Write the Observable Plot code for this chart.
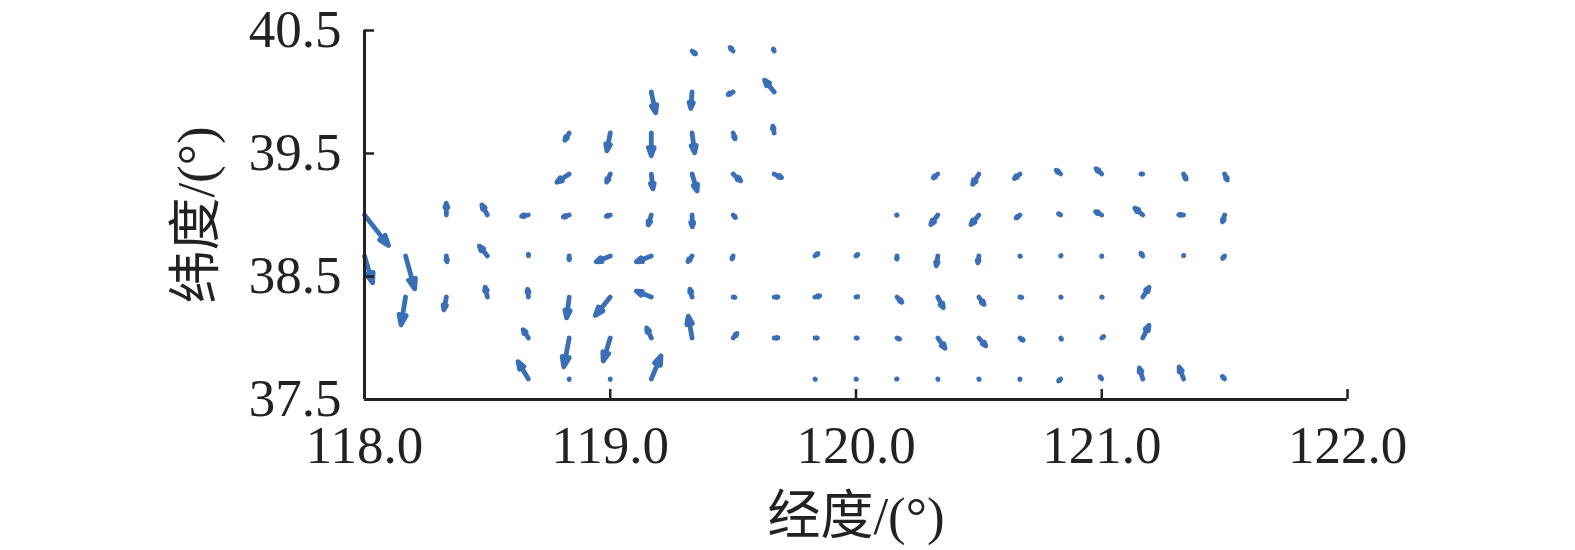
<!DOCTYPE html>
<html>
<head>
<meta charset="utf-8">
<script src="https://cdn.jsdelivr.net/npm/d3@7"></script>
<script src="https://cdn.jsdelivr.net/npm/@observablehq/plot@0.6"></script>
<style>
  html, body { margin: 0; padding: 0; background: #fff; }
</style>
</head>
<body>
<div id="chart"></div>
<script>
// Axis ticks and labels
const xTicks = [118.0, 119.0, 120.0, 121.0, 122.0];
const yTicks = [37.5, 38.5, 39.5, 40.5];
const xDomain = [118.0, 122.0];
const yDomain = [37.5, 40.5];
const xLabel = ["经度/(°)"];
const yLabel = ["纬度/(°)"];

// Grid points (longitude, latitude) of each current vector, row by row (north to south)
const lon = [
  // 40.333
  119.333, 119.5, 119.667,
  // 40.0
  119.167, 119.333, 119.5, 119.667,
  // 39.667
  118.833, 119.0, 119.167, 119.333, 119.5, 119.667,
  // 39.333
  118.833, 119.0, 119.167, 119.333, 119.5, 119.667,
  120.333, 120.5, 120.667, 120.833, 121.0, 121.167, 121.333, 121.5,
  // 39.0
  118.0, 118.333, 118.5, 118.667, 118.833, 119.0, 119.167, 119.333, 119.5,
  120.167, 120.333, 120.5, 120.667, 120.833, 121.0, 121.167, 121.333, 121.5,
  // 38.667
  118.0, 118.167, 118.333, 118.5, 118.667, 118.833, 119.0, 119.167, 119.333, 119.5,
  119.833, 120.0, 120.167, 120.333, 120.5, 120.667, 120.833, 121.0, 121.167, 121.333, 121.5,
  // 38.333
  118.167, 118.333, 118.5, 118.667, 118.833, 119.0, 119.167, 119.333, 119.5, 119.667,
  119.833, 120.0, 120.167, 120.333, 120.5, 120.667, 120.833, 121.0, 121.167,
  // 38.0
  118.667, 118.833, 119.0, 119.167, 119.333, 119.5, 119.667,
  119.833, 120.0, 120.167, 120.333, 120.5, 120.667, 120.833, 121.0, 121.167,
  // 37.667
  118.667, 118.833, 119.0, 119.167,
  119.833, 120.0, 120.167, 120.333, 120.5, 120.667, 120.833, 121.0, 121.167, 121.333, 121.5
];
const lat = [
  40.333, 40.333, 40.333,
  40.0, 40.0, 40.0, 40.0,
  39.667, 39.667, 39.667, 39.667, 39.667, 39.667,
  39.333, 39.333, 39.333, 39.333, 39.333, 39.333,
  39.333, 39.333, 39.333, 39.333, 39.333, 39.333, 39.333, 39.333,
  39.0, 39.0, 39.0, 39.0, 39.0, 39.0, 39.0, 39.0, 39.0,
  39.0, 39.0, 39.0, 39.0, 39.0, 39.0, 39.0, 39.0, 39.0,
  38.667, 38.667, 38.667, 38.667, 38.667, 38.667, 38.667, 38.667, 38.667, 38.667,
  38.667, 38.667, 38.667, 38.667, 38.667, 38.667, 38.667, 38.667, 38.667, 38.667, 38.667,
  38.333, 38.333, 38.333, 38.333, 38.333, 38.333, 38.333, 38.333, 38.333, 38.333,
  38.333, 38.333, 38.333, 38.333, 38.333, 38.333, 38.333, 38.333, 38.333,
  38.0, 38.0, 38.0, 38.0, 38.0, 38.0, 38.0,
  38.0, 38.0, 38.0, 38.0, 38.0, 38.0, 38.0, 38.0, 38.0,
  37.667, 37.667, 37.667, 37.667,
  37.667, 37.667, 37.667, 37.667, 37.667, 37.667, 37.667, 37.667, 37.667, 37.667, 37.667
];
// Eastward (u) and northward (v) components
const u = [
  1.5, -1.25, -0.5,
  1.25, -0.4, -2.0, -2.9,
  -1.5, -1.0, 0.0, 0.75, 0.75, -0.5,
  -3.75, -1.25, 0.5, 1.5, 2.5, 2.6,
  -1.75, -2.0, -2.0, -1.75, -2.0, -1.25, 1.0, 1.0,
  6.5, 0.0, -1.75, -2.5, -2.25, -1.75, -1.0, 0.1, 1.1,
  -0.5, -2.25, -2.5, -1.6, -1.25, -2.25, -2.6, -2.0, -0.75,
  2.25, 2.5, 0.25, -2.5, 0.0, 0.0, -4.25, -4.5, -1.5, -0.6,
  1.4, 1.1, -0.1, -0.5, -0.4, 0.25, 0.25, 0.0, -0.9, 0.0, -1.0,
  -1.25, -0.75, -0.75, -0.25, -0.75, -4.25, -4.5, -0.75, 1.25, 1.75,
  2.0, 1.25, 1.75, 1.75, 1.75, 1.25, 0.6, 0.25, 2.0,
  -1.75, -1.5, -2.0, -1.5, -1.1, 1.5, 1.75,
  1.4, 1.1, 1.4, 2.25, 2.25, 1.5, 0.6, 1.1, 1.9,
  -3.0, 0.0, 0.0, 2.75,
  0.25, 0.25, -0.25, 0.25, 0.25, 0.0, -1.1, -0.9, -1.1, -1.4, -1.1
];
const v = [
  -1.25, 1.5, 1.25,
  -6.0, -4.9, -1.0, 3.6,
  -2.5, -5.25, -6.5, -5.75, -2.25, 2.5,
  -2.5, -2.75, -4.5, -5.0, -2.25, -1.25,
  -1.5, -3.25, -1.6, 1.5, 1.9, 0.0, -2.0, -2.25,
  -8.25, 3.75, 3.25, -0.4, -0.75, -0.6, -3.25, -3.75, -1.25,
  -0.25, -3.0, -3.0, -1.25, 0.75, 1.25, 2.25, 0.1, -2.5,
  -7.5, -9.0, -2.25, 3.1, 1.25, -1.75, -1.75, -1.75, -2.0, -1.5,
  1.1, 0.9, -1.6, -3.25, -2.5, -0.25, 0.25, -0.25, 1.4, 0.4, -1.25,
  -7.75, -4.0, 3.25, 2.75, -6.0, -5.25, 1.75, 2.75, -0.25, 0.0,
  0.5, 0.25, -1.9, -3.4, -2.5, -0.25, -0.4, -0.1, 3.1,
  2.75, -8.0, -6.5, 3.25, 6.25, 1.75, 0.1,
  0.0, -0.1, -0.6, -3.25, -2.6, -1.0, -1.0, 0.9, 3.9,
  5.0, -0.5, -0.5, 6.5,
  -0.25, -0.25, -0.1, -0.5, -0.5, -0.5, -1.1, 1.25, 3.5, 3.75, 1.25
];

const pxPerUnit = 4;
const arrowColor = "#3a6fb7";
const inkColor = "#222222";

// Arrow with a filled head; drawn pointing up, rotated by Plot.vector
const arrowShape = {
  draw(context, l) {
    const hl = Math.min(10, l * 0.36);
    const hw = hl * 0.36;
    context.moveTo(0, 0);
    context.lineTo(0, -(l - hl));
    context.moveTo(-hw, -(l - hl));
    context.lineTo(0, -l);
    context.lineTo(hw, -(l - hl));
    context.closePath();
  }
};

const idx = d3.range(lon.length);

const chart = Plot.plot({
  width: 1575,
  height: 550,
  marginLeft: 364,
  marginRight: 228,
  marginTop: 30,
  marginBottom: 151,
  style: {
    fontFamily: "'Liberation Serif', 'Noto Sans CJK SC', serif",
    fontSize: "53px",
    color: inkColor,
    background: "#fff",
    overflow: "visible"
  },
  x: { domain: xDomain, label: null },
  y: { domain: yDomain, label: null },
  length: { type: "identity" },
  marks: [
    Plot.vector(idx, {
      x: (i) => lon[i],
      y: (i) => lat[i],
      length: (i) => Math.max(0.6, Math.hypot(u[i], v[i]) * pxPerUnit - 3.2),
      rotate: (i) => Math.atan2(u[i], v[i]) * 180 / Math.PI,
      anchor: "start",
      shape: arrowShape,
      stroke: arrowColor,
      fill: arrowColor,
      strokeWidth: 4.8,
      strokeLinecap: "round",
      strokeLinejoin: "round"
    }),
    Plot.ruleX([xDomain[0]], { stroke: inkColor, strokeWidth: 3 }),
    Plot.ruleY([yDomain[0]], { stroke: inkColor, strokeWidth: 3 }),
    Plot.axisX({
      ticks: xTicks,
      tickFormat: (d) => d.toFixed(1),
      tickSize: -10,
      tickPadding: 36,
      strokeWidth: 2.5,
      label: null
    }),
    Plot.axisY({
      ticks: yTicks,
      tickFormat: (d) => d.toFixed(1),
      tickSize: -10,
      tickPadding: 33,
      strokeWidth: 2.5,
      label: null
    }),
    Plot.text(xLabel, {
      text: (d) => d,
      frameAnchor: "bottom",
      textAnchor: "middle",
      lineAnchor: "middle",
      dy: 118,
      fill: inkColor
    }),
    Plot.text(yLabel, {
      text: (d) => d,
      frameAnchor: "left",
      textAnchor: "middle",
      lineAnchor: "middle",
      dx: -167,
      rotate: -90,
      fill: inkColor
    })
  ]
});

document.getElementById("chart").appendChild(chart);
</script>
</body>
</html>
